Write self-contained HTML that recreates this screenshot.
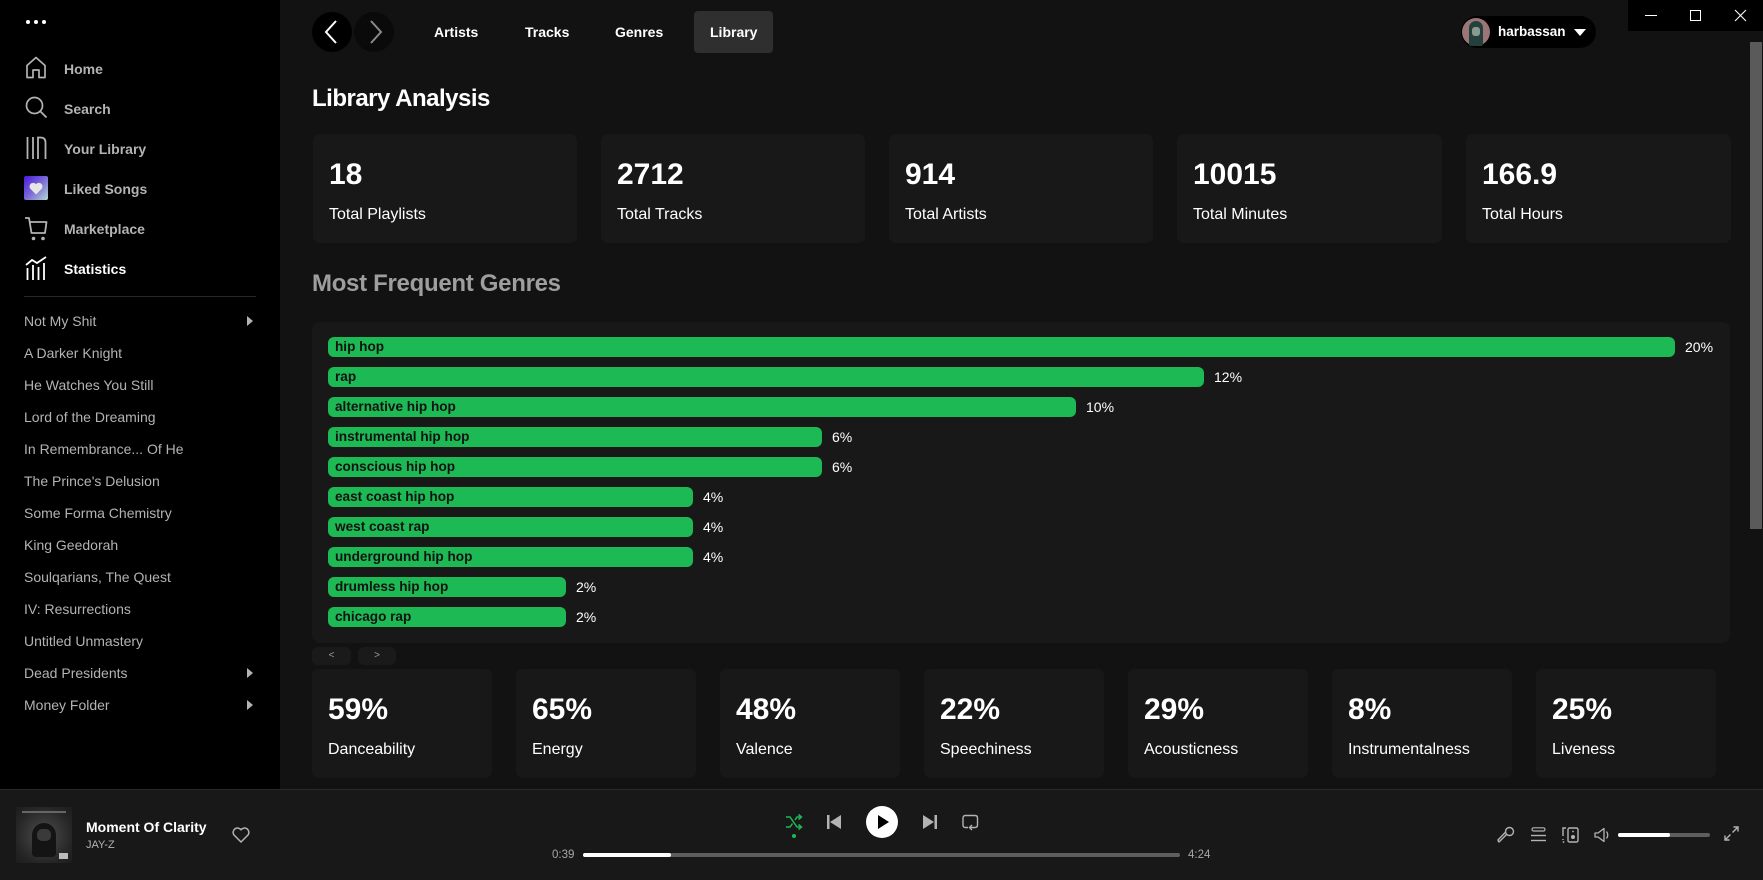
<!DOCTYPE html>
<html><head><meta charset="utf-8">
<style>
*{margin:0;padding:0;box-sizing:border-box}
body{width:1763px;height:880px;overflow:hidden;background:#121212;font-family:"Liberation Sans",Arial,sans-serif;position:relative;color:#fff}
.a{position:absolute;white-space:nowrap}
.side{position:absolute;left:0;top:0;width:280px;height:789px;background:#000}
.nav{position:absolute;left:64px;font-size:14px;line-height:20px;font-weight:bold;color:#b3b3b3;white-space:nowrap}
.pl{position:absolute;left:24px;font-size:14px;line-height:20px;color:#b3b3b3;white-space:nowrap}
.tri{position:absolute;left:247px;width:0;height:0;border-top:5px solid transparent;border-bottom:5px solid transparent;border-left:6px solid #b3b3b3}
.tab{position:absolute;top:22px;font-size:14px;line-height:20px;font-weight:bold;color:#fff;white-space:nowrap}
.card{position:absolute;background:#181818;border-radius:7px}
.num{position:absolute;left:16px;top:26px;font-size:30px;line-height:30px;font-weight:bold;color:#fff;white-space:nowrap}
.lbl{position:absolute;left:16px;top:73px;font-size:16px;line-height:16px;color:#fff;white-space:nowrap}
.bar{position:absolute;left:328px;height:20px;background:#1db954;border-radius:6px}
.bar span{position:absolute;left:7px;top:0;font-size:13.6px;line-height:20px;font-weight:bold;color:#121212;white-space:nowrap}
.pct{position:absolute;font-size:14px;line-height:20px;color:#fff;white-space:nowrap}
</style></head><body>

<!-- Sidebar -->
<div class="side"></div>
<div class="a" style="left:26px;top:20px;width:4px;height:4px;border-radius:50%;background:#fff"></div>
<div class="a" style="left:34px;top:20px;width:4px;height:4px;border-radius:50%;background:#fff"></div>
<div class="a" style="left:42px;top:20px;width:4px;height:4px;border-radius:50%;background:#fff"></div>

<svg class="a" style="left:25px;top:56px" width="22" height="23" viewBox="0 0 22 23"><path d="M2 9.5 L11 1.5 L20 9.5 V21.5 H14 V14 H8 V21.5 H2 Z" fill="none" stroke="#b3b3b3" stroke-width="1.7" stroke-linejoin="round"/></svg>
<svg class="a" style="left:25px;top:96px" width="23" height="23" viewBox="0 0 23 23"><circle cx="9.5" cy="9.5" r="8" fill="none" stroke="#b3b3b3" stroke-width="1.7"/><line x1="15.5" y1="15.5" x2="21.5" y2="21.5" stroke="#b3b3b3" stroke-width="1.8"/></svg>
<svg class="a" style="left:25px;top:136px" width="23" height="24" viewBox="0 0 23 24"><line x1="2.5" y1="1" x2="2.5" y2="23" stroke="#b3b3b3" stroke-width="1.8"/><line x1="8" y1="1" x2="8" y2="23" stroke="#b3b3b3" stroke-width="1.8"/><path d="M13 23 V1.5 H15.5 Q20.5 1.5 20.5 6.5 V23" fill="none" stroke="#b3b3b3" stroke-width="1.8"/></svg>
<div class="a" style="left:24px;top:176px;width:24px;height:24px;border-radius:2px;background:linear-gradient(135deg,#4a18e0 0%,#7a6ad8 50%,#b3d8d0 100%)"></div>
<svg class="a" style="left:29px;top:182px" width="14" height="13" viewBox="0 0 14 13"><path d="M7 12.5 L1.3 6.8 A3.4 3.4 0 0 1 7 2.2 A3.4 3.4 0 0 1 12.7 6.8 Z" fill="#e6e6e6"/></svg>
<svg class="a" style="left:24px;top:216px" width="24" height="26" viewBox="0 0 24 26"><path d="M1 2 H5 L7.5 17 H21 L22.5 6 H6" fill="none" stroke="#b3b3b3" stroke-width="1.8" stroke-linejoin="round"/><circle cx="9.5" cy="22.5" r="1.8" fill="#b3b3b3"/><circle cx="19" cy="22.5" r="1.8" fill="#b3b3b3"/></svg>
<svg class="a" style="left:25px;top:256px" width="23" height="24" viewBox="0 0 23 24"><path d="M1 9 L7 4 L12 7 L21 1" fill="none" stroke="#fff" stroke-width="1.8"/><line x1="2.5" y1="12" x2="2.5" y2="24" stroke="#fff" stroke-width="1.8"/><line x1="8" y1="9" x2="8" y2="24" stroke="#fff" stroke-width="1.8"/><line x1="13.5" y1="11" x2="13.5" y2="24" stroke="#fff" stroke-width="1.8"/><line x1="19" y1="7" x2="19" y2="24" stroke="#fff" stroke-width="1.8"/></svg>

<div class="nav" style="top:59px">Home</div>
<div class="nav" style="top:99px">Search</div>
<div class="nav" style="top:139px">Your Library</div>
<div class="nav" style="top:179px">Liked Songs</div>
<div class="nav" style="top:219px">Marketplace</div>
<div class="nav" style="top:259px;color:#fff">Statistics</div>

<div class="a" style="left:24px;top:296px;width:232px;height:1px;background:#282828"></div>

<div class="pl" style="top:311px">Not My Shit</div><div class="tri" style="top:316px"></div>
<div class="pl" style="top:343px">A Darker Knight</div>
<div class="pl" style="top:375px">He Watches You Still</div>
<div class="pl" style="top:407px">Lord of the Dreaming</div>
<div class="pl" style="top:439px">In Remembrance... Of He</div>
<div class="pl" style="top:471px">The Prince's Delusion</div>
<div class="pl" style="top:503px">Some Forma Chemistry</div>
<div class="pl" style="top:535px">King Geedorah</div>
<div class="pl" style="top:567px">Soulqarians, The Quest</div>
<div class="pl" style="top:599px">IV: Resurrections</div>
<div class="pl" style="top:631px">Untitled Unmastery</div>
<div class="pl" style="top:663px">Dead Presidents</div><div class="tri" style="top:668px"></div>
<div class="pl" style="top:695px">Money Folder</div><div class="tri" style="top:700px"></div>

<!-- Top bar -->
<div class="a" style="left:312px;top:12px;width:40px;height:40px;border-radius:50%;background:#000"></div>
<svg class="a" style="left:324px;top:20px" width="14" height="24" viewBox="0 0 14 24"><polyline points="12,1 2,12 12,23" fill="none" stroke="#fff" stroke-width="2"/></svg>
<div class="a" style="left:354px;top:12px;width:40px;height:40px;border-radius:50%;background:#0a0a0a"></div>
<svg class="a" style="left:369px;top:20px" width="14" height="24" viewBox="0 0 14 24"><polyline points="2,1 12,12 2,23" fill="none" stroke="#8a8a8a" stroke-width="2"/></svg>

<div class="tab" style="left:434px">Artists</div>
<div class="tab" style="left:525px">Tracks</div>
<div class="tab" style="left:615px">Genres</div>
<div class="a" style="left:694px;top:11px;width:79px;height:42px;border-radius:4px;background:#2f2f2f"></div>
<div class="tab" style="left:710px">Library</div>

<div class="a" style="left:1461px;top:16px;width:135px;height:32px;border-radius:16px;background:#000"></div>
<div class="a" style="left:1462px;top:18px;width:28px;height:28px;border-radius:50%;background:#9a7676"></div>
<div class="a" style="left:1469px;top:21px;width:14px;height:25px;border-radius:7px 7px 2px 2px;background:#24403c"></div>
<div class="a" style="left:1472px;top:27px;width:8px;height:9px;border-radius:3px;background:#8a9a90"></div>
<div class="a" style="left:1498px;top:22px;font-size:13.5px;line-height:20px;font-weight:bold;color:#fff">harbassan</div>
<div class="a" style="left:1574px;top:29px;width:0;height:0;border-left:6px solid transparent;border-right:6px solid transparent;border-top:7px solid #fff"></div>

<!-- window controls -->
<div class="a" style="left:1628px;top:0;width:135px;height:31px;background:#000"></div>
<div class="a" style="left:1645px;top:15px;width:12px;height:1px;background:#fff"></div>
<div class="a" style="left:1690px;top:10px;width:11px;height:11px;border:1px solid #fff"></div>
<svg class="a" style="left:1734px;top:9px" width="13" height="13" viewBox="0 0 13 13"><line x1="1" y1="1" x2="12" y2="12" stroke="#fff" stroke-width="1.1"/><line x1="12" y1="1" x2="1" y2="12" stroke="#fff" stroke-width="1.1"/></svg>

<!-- scrollbar -->
<div class="a" style="left:1750px;top:42px;width:12px;height:487px;background:#5a5a5a"></div>

<!-- Heading -->
<div class="a" style="left:312px;top:87px;font-size:24px;line-height:24px;font-weight:bold;letter-spacing:-0.5px;color:#fff">Library Analysis</div>

<div class="card" style="left:313px;top:134px;width:264px;height:109px"><div class="num">18</div><div class="lbl">Total Playlists</div></div>
<div class="card" style="left:601px;top:134px;width:264px;height:109px"><div class="num">2712</div><div class="lbl">Total Tracks</div></div>
<div class="card" style="left:889px;top:134px;width:264px;height:109px"><div class="num">914</div><div class="lbl">Total Artists</div></div>
<div class="card" style="left:1177px;top:134px;width:265px;height:109px"><div class="num">10015</div><div class="lbl">Total Minutes</div></div>
<div class="card" style="left:1466px;top:134px;width:265px;height:109px"><div class="num">166.9</div><div class="lbl">Total Hours</div></div>

<div class="a" style="left:312px;top:272px;font-size:24px;line-height:24px;font-weight:bold;letter-spacing:-0.3px;color:#9e9e9e">Most Frequent Genres</div>

<!-- Genre chart -->
<div class="card" style="left:312px;top:322px;width:1418px;height:321px;border-radius:8px"></div>

<div class="bar" style="top:337px;width:1347px"><span>hip hop</span></div><div class="pct" style="left:1685px;top:337px">20%</div>
<div class="bar" style="top:367px;width:876px"><span>rap</span></div><div class="pct" style="left:1214px;top:367px">12%</div>
<div class="bar" style="top:397px;width:748px"><span>alternative hip hop</span></div><div class="pct" style="left:1086px;top:397px">10%</div>
<div class="bar" style="top:427px;width:494px"><span>instrumental hip hop</span></div><div class="pct" style="left:832px;top:427px">6%</div>
<div class="bar" style="top:457px;width:494px"><span>conscious hip hop</span></div><div class="pct" style="left:832px;top:457px">6%</div>
<div class="bar" style="top:487px;width:365px"><span>east coast hip hop</span></div><div class="pct" style="left:703px;top:487px">4%</div>
<div class="bar" style="top:517px;width:365px"><span>west coast rap</span></div><div class="pct" style="left:703px;top:517px">4%</div>
<div class="bar" style="top:547px;width:365px"><span>underground hip hop</span></div><div class="pct" style="left:703px;top:547px">4%</div>
<div class="bar" style="top:577px;width:238px"><span>drumless hip hop</span></div><div class="pct" style="left:576px;top:577px">2%</div>
<div class="bar" style="top:607px;width:238px"><span>chicago rap</span></div><div class="pct" style="left:576px;top:607px">2%</div>

<div class="a" style="left:312px;top:647px;width:39px;height:18px;border-radius:6px;background:#1a1a1a;color:#9a9a9a;font-size:10px;line-height:18px;text-align:center">&lt;</div>
<div class="a" style="left:358px;top:647px;width:38px;height:18px;border-radius:6px;background:#1a1a1a;color:#9a9a9a;font-size:10px;line-height:18px;text-align:center">&gt;</div>

<!-- Feature cards -->
<div class="card" style="left:312px;top:669px;width:180px;height:109px"><div class="num">59%</div><div class="lbl">Danceability</div></div>
<div class="card" style="left:516px;top:669px;width:180px;height:109px"><div class="num">65%</div><div class="lbl">Energy</div></div>
<div class="card" style="left:720px;top:669px;width:180px;height:109px"><div class="num">48%</div><div class="lbl">Valence</div></div>
<div class="card" style="left:924px;top:669px;width:180px;height:109px"><div class="num">22%</div><div class="lbl">Speechiness</div></div>
<div class="card" style="left:1128px;top:669px;width:180px;height:109px"><div class="num">29%</div><div class="lbl">Acousticness</div></div>
<div class="card" style="left:1332px;top:669px;width:180px;height:109px"><div class="num">8%</div><div class="lbl">Instrumentalness</div></div>
<div class="card" style="left:1536px;top:669px;width:180px;height:109px"><div class="num">25%</div><div class="lbl">Liveness</div></div>

<!-- Player bar -->
<div class="a" style="left:0;top:789px;width:1763px;height:91px;background:#181818;border-top:1px solid #2a2a2a"></div>
<div class="a" style="left:16px;top:807px;width:56px;height:56px;background:radial-gradient(ellipse at 50% 50%,#5a5a5a 0%,#3a3a3a 35%,#262626 70%,#1c1c1c 100%)"></div>
<div class="a" style="left:22px;top:811px;width:44px;height:2px;background:#666"></div>
<div class="a" style="left:32px;top:823px;width:24px;height:34px;border-radius:12px 12px 4px 4px;background:#141414"></div>
<div class="a" style="left:37px;top:829px;width:14px;height:12px;border-radius:5px;background:#3a3a3a"></div>
<div class="a" style="left:59px;top:853px;width:9px;height:6px;background:#bbb"></div>
<div class="a" style="left:86px;top:820px;font-size:14px;line-height:14px;font-weight:bold;color:#fff">Moment Of Clarity</div>
<div class="a" style="left:86px;top:840px;font-size:11px;line-height:11px;color:#b3b3b3">JAY-Z</div>
<svg class="a" style="left:232px;top:827px" width="18" height="16" viewBox="0 0 18 16"><path d="M9 15 L2 8 A4.2 4.2 0 0 1 9 2.8 A4.2 4.2 0 0 1 16 8 Z" fill="none" stroke="#b3b3b3" stroke-width="1.5" stroke-linejoin="round"/></svg>

<!-- center controls -->
<svg class="a" style="left:785px;top:813px" width="18" height="18" viewBox="0 0 18 18"><path d="M1 4 H5 L12 14 H16 M1 14 H5 L7.5 10.5 M10 7 L12 4 H16" fill="none" stroke="#1db954" stroke-width="1.5"/><polyline points="13.5,1.5 16.5,4 13.5,6.5" fill="none" stroke="#1db954" stroke-width="1.5"/><polyline points="13.5,11.5 16.5,14 13.5,16.5" fill="none" stroke="#1db954" stroke-width="1.5"/></svg>
<div class="a" style="left:792px;top:834px;width:4px;height:4px;border-radius:50%;background:#1db954"></div>
<svg class="a" style="left:827px;top:815px" width="14" height="14" viewBox="0 0 14 14"><rect x="0" y="0" width="2.5" height="14" fill="#b3b3b3"/><polygon points="14,0 14,14 3,7" fill="#b3b3b3"/></svg>
<div class="a" style="left:866px;top:806px;width:32px;height:32px;border-radius:50%;background:#fff"></div>
<svg class="a" style="left:877px;top:815px" width="12" height="14" viewBox="0 0 12 14"><polygon points="1,0 12,7 1,14" fill="#000"/></svg>
<svg class="a" style="left:923px;top:815px" width="14" height="14" viewBox="0 0 14 14"><polygon points="0,0 11,7 0,14" fill="#b3b3b3"/><rect x="11.5" y="0" width="2.5" height="14" fill="#b3b3b3"/></svg>
<svg class="a" style="left:962px;top:814px" width="17" height="17" viewBox="0 0 17 17"><path d="M6 13.5 H3.5 Q1 13.5 1 11 V4 Q1 1.5 3.5 1.5 H13 Q15.5 1.5 15.5 4 V11 Q15.5 13.5 13 13.5 H8" fill="none" stroke="#b3b3b3" stroke-width="1.4"/><polyline points="10,11 7.5,13.5 10,16" fill="none" stroke="#b3b3b3" stroke-width="1.4"/></svg>

<div class="a" style="left:552px;top:848px;font-size:11.5px;line-height:14px;color:#a7a7a7">0:39</div>
<div class="a" style="left:583px;top:853px;width:597px;height:4px;border-radius:2px;background:#5e5e5e"></div>
<div class="a" style="left:583px;top:853px;width:88px;height:4px;border-radius:2px;background:#fff"></div>
<div class="a" style="left:1188px;top:848px;font-size:11.5px;line-height:14px;color:#a7a7a7">4:24</div>

<!-- right controls -->
<svg class="a" style="left:1497px;top:826px" width="18" height="18" viewBox="0 0 18 18"><circle cx="12.5" cy="5.5" r="4" fill="none" stroke="#b3b3b3" stroke-width="1.4"/><path d="M9.8 8.2 L2 16 L1.5 15.5 L1 14 L8.2 6.5" fill="none" stroke="#b3b3b3" stroke-width="1.4" stroke-linejoin="round"/></svg>
<svg class="a" style="left:1531px;top:827px" width="15" height="15" viewBox="0 0 15 15"><rect x="1" y="0.8" width="13" height="3.2" rx="1.6" fill="none" stroke="#b3b3b3" stroke-width="1.2"/><line x1="0" y1="8.5" x2="15" y2="8.5" stroke="#b3b3b3" stroke-width="1.4"/><line x1="0" y1="13.5" x2="15" y2="13.5" stroke="#b3b3b3" stroke-width="1.4"/></svg>
<svg class="a" style="left:1562px;top:827px" width="17" height="16" viewBox="0 0 17 16"><path d="M4 1 H1 V9 M1 12 V13" fill="none" stroke="#b3b3b3" stroke-width="1.4"/><circle cx="1.5" cy="15" r="0.9" fill="#b3b3b3"/><rect x="6" y="1" width="10" height="14" rx="1.5" fill="none" stroke="#b3b3b3" stroke-width="1.4"/><circle cx="11" cy="10" r="2" fill="#b3b3b3"/><circle cx="11" cy="4.5" r="0.9" fill="#b3b3b3"/></svg>
<svg class="a" style="left:1594px;top:827px" width="16" height="16" viewBox="0 0 16 16"><path d="M1 6 H4 L10 1.5 V14.5 L4 10 H1 Z" fill="none" stroke="#b3b3b3" stroke-width="1.3" stroke-linejoin="round"/><path d="M12.5 4.5 Q15 8 12.5 11.5" fill="none" stroke="#b3b3b3" stroke-width="1.3"/></svg>
<div class="a" style="left:1618px;top:833px;width:92px;height:4px;border-radius:2px;background:#5e5e5e"></div>
<div class="a" style="left:1618px;top:833px;width:52px;height:4px;border-radius:2px;background:#fff"></div>
<svg class="a" style="left:1724px;top:826px" width="15" height="15" viewBox="0 0 15 15"><line x1="8.5" y1="6.5" x2="14" y2="1" stroke="#b3b3b3" stroke-width="1.4"/><polyline points="9.5,1 14,1 14,5.5" fill="none" stroke="#b3b3b3" stroke-width="1.4"/><line x1="6.5" y1="8.5" x2="1" y2="14" stroke="#b3b3b3" stroke-width="1.4"/><polyline points="1,9.5 1,14 5.5,14" fill="none" stroke="#b3b3b3" stroke-width="1.4"/></svg>

</body></html>
